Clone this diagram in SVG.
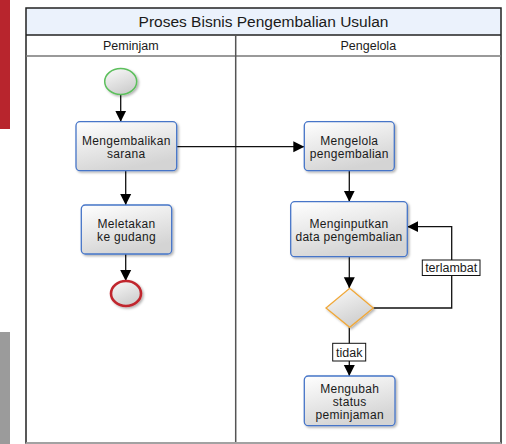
<svg xmlns="http://www.w3.org/2000/svg" width="506" height="444" viewBox="0 0 506 444">
<style>
text{font-family:"Liberation Sans",Arial,sans-serif;fill:#1a1a1a;text-anchor:middle}
.title{font-size:15.5px}
.hdr{font-size:12.5px}
.lbl{font-size:12px;letter-spacing:0.3px}
.edgelbl{font-size:12.5px}
.task{fill:url(#gTask);stroke:#4675c8;stroke-width:1.3;filter:url(#sh)}
.conn{fill:none;stroke:#111;stroke-width:1.3}
.tag{fill:#fff;stroke:#111;stroke-width:1}
</style>
<defs>
<linearGradient id="gTask" x1="0" y1="0" x2="0.4" y2="1">
<stop offset="0" stop-color="#ffffff"/>
<stop offset="1" stop-color="#d4d4d4"/>
</linearGradient>
<linearGradient id="gCirc" x1="0" y1="0" x2="0.5" y2="1">
<stop offset="0" stop-color="#fafafa"/>
<stop offset="1" stop-color="#cfcfcf"/>
</linearGradient>
<filter id="sh" x="-20%" y="-20%" width="150%" height="150%">
<feDropShadow dx="1.5" dy="1.5" stdDeviation="1" flood-color="#000" flood-opacity="0.3"/>
</filter>
<marker id="arr" markerUnits="userSpaceOnUse" markerWidth="12" markerHeight="12" viewBox="0 0 12 12" refX="11" refY="6" orient="auto">
<path d="M0,0.5 L11,6 L0,11.5 z" fill="#000"/>
</marker>
</defs>

<rect x="0" y="0" width="10" height="129" fill="#b8252d"/>
<rect x="0" y="332" width="10" height="112" fill="#9b9b9b"/>

<g id="pool">
<rect x="26" y="8" width="475" height="27" fill="#ebf2fc"/>
<rect x="26" y="8" width="475" height="435" fill="none" stroke="#222" stroke-width="1.5"/>
<line x1="26" y1="35" x2="501" y2="35" stroke="#222" stroke-width="1.3"/>
<line x1="26" y1="56" x2="501" y2="56" stroke="#777" stroke-width="1.3"/>
<line x1="235.7" y1="35" x2="235.7" y2="443" stroke="#555" stroke-width="1.5"/>
<line x1="26" y1="443" x2="501" y2="443" stroke="#bbb" stroke-width="1.5"/>
<text class="title" x="263.5" y="27">Proses Bisnis Pengembalian Usulan</text>
<text class="hdr" x="130.8" y="50">Peminjam</text>
<text class="hdr" x="368.3" y="50">Pengelola</text>
</g>

<g id="connectors">
<line class="conn" x1="120.7" y1="94.5" x2="120.7" y2="121.7" marker-end="url(#arr)"/>
<line class="conn" x1="125.7" y1="170.7" x2="125.7" y2="205" marker-end="url(#arr)"/>
<line class="conn" x1="125.7" y1="254" x2="125.7" y2="281" marker-end="url(#arr)"/>
<line class="conn" x1="176.7" y1="146.7" x2="304.3" y2="146.7" marker-end="url(#arr)"/>
<line class="conn" x1="349.3" y1="170.7" x2="349.3" y2="201.7" marker-end="url(#arr)"/>
<line class="conn" x1="349.3" y1="256.7" x2="349.3" y2="288.3" marker-end="url(#arr)"/>
<path class="conn" d="M373.3,308 H451.7 V226.7 H407.3" marker-end="url(#arr)"/>
<line class="conn" x1="349.3" y1="327.3" x2="349.3" y2="376" marker-end="url(#arr)"/>
<rect class="tag" x="422.3" y="260" width="57.7" height="15.5"/>
<text class="edgelbl" x="451.2" y="272">terlambat</text>
<rect class="tag" x="332.7" y="343.3" width="33" height="17.7"/>
<text class="edgelbl" x="349.2" y="356.5">tidak</text>
</g>

<g id="start">
<ellipse cx="120.7" cy="81.5" rx="16" ry="13" fill="url(#gCirc)" stroke="#5cbf5c" stroke-width="1.5" filter="url(#sh)"/>
</g>
<g id="mengembalikan">
<rect class="task" x="76" y="121.7" width="100.7" height="49" rx="4"/>
<text class="lbl" x="126.3" y="144.5">Mengembalikan</text>
<text class="lbl" x="126.3" y="157.8">sarana</text>
</g>
<g id="meletakan">
<rect class="task" x="81.3" y="205" width="90.4" height="49" rx="4"/>
<text class="lbl" x="126.5" y="228.3">Meletakan</text>
<text class="lbl" x="126.5" y="241">ke gudang</text>
</g>
<g id="end">
<ellipse cx="126" cy="293.5" rx="15" ry="12.5" fill="url(#gCirc)" stroke="#c0282e" stroke-width="2.6" filter="url(#sh)"/>
</g>
<g id="mengelola">
<rect class="task" x="304.3" y="121.7" width="90" height="49" rx="4"/>
<text class="lbl" x="349.3" y="144.5">Mengelola</text>
<text class="lbl" x="349.3" y="157.8">pengembalian</text>
</g>
<g id="menginputkan">
<rect class="task" x="290.7" y="201.7" width="116.6" height="55" rx="4"/>
<text class="lbl" x="349" y="227.5">Menginputkan</text>
<text class="lbl" x="349" y="241">data pengembalian</text>
</g>
<g id="gateway">
<polygon points="349.7,288.3 373.3,308 349.7,327.3 326,308" fill="url(#gCirc)" stroke="#f0a83a" stroke-width="1.3" filter="url(#sh)"/>
</g>
<g id="mengubah">
<rect class="task" x="304.3" y="376" width="90.7" height="49.7" rx="4"/>
<text class="lbl" x="349.7" y="393.3">Mengubah</text>
<text class="lbl" x="349.7" y="406">status</text>
<text class="lbl" x="349.7" y="418.7">peminjaman</text>
</g>
</svg>
